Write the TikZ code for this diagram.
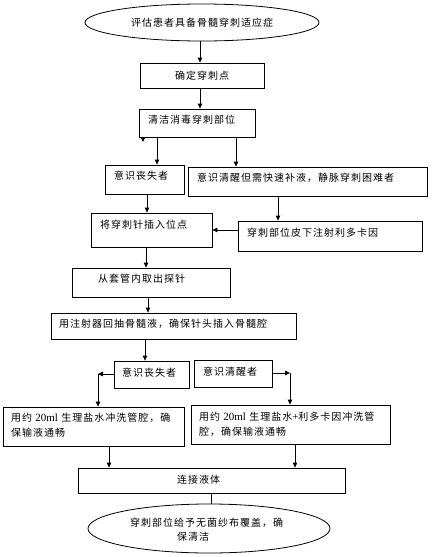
\documentclass[tikz,border=0pt]{standalone}
\usepackage{fontspec}
\setmainfont{Liberation Serif}
\newfontfamily\cjk[LetterSpace=10]{Noto Sans CJK SC}
\usetikzlibrary{arrows.meta,shapes.geometric}
\tikzset{
  box/.style={draw, line width=0.8pt, rectangle, inner sep=0},
  oval/.style={draw, line width=0.8pt, ellipse, inner sep=0},
  txt/.style={inner sep=0, anchor=west, align=left, font=\cjk\fontsize{10}{15}\selectfont},
  ctxt/.style={font=\cjk\fontsize{10}{15}\selectfont},
  arr/.style={line width=0.8pt, -{Triangle[length=5pt,width=4.5pt]}},
  link/.style={line width=0.8pt}
}
\begin{document}
\begin{tikzpicture}[x=1pt,y=-1pt]
\useasboundingbox (0,0) rectangle (434,557);
% nodes
\node[oval, ctxt, minimum width=234pt, minimum height=37pt] (E1) at (202,22.5) {评估患者具备骨髓穿刺适应症};
\node[box, ctxt, minimum width=124pt, minimum height=25pt] (B1) at (202,75.5) {确定穿刺点};
\node[box, minimum width=116pt, minimum height=28pt] (B2) at (197,123) {};
\node[box, minimum width=79pt, minimum height=29pt] (B3) at (144.5,179.5) {};
\node[box, minimum width=239pt, minimum height=29pt] (B4) at (307.5,181.5) {};
\node[box, minimum width=121pt, minimum height=34pt] (B5) at (151.5,230) {};
\node[box, minimum width=184pt, minimum height=30pt] (B6) at (330,236) {};
\node[box, minimum width=158pt, minimum height=29pt] (B7) at (151,282.5) {};
\node[box, minimum width=245pt, minimum height=26pt] (B8) at (173.5,326) {};
\node[box, minimum width=75pt, minimum height=27pt] (B9) at (151.5,374.5) {};
\node[box, minimum width=78pt, minimum height=27pt] (B10) at (233,373.5) {};
\node[box, minimum width=181pt, minimum height=39pt] (B11) at (93.5,426.5) {};
\node[box, minimum width=199pt, minimum height=39pt] (B12) at (290.5,424.5) {};
\node[box, minimum width=267pt, minimum height=25pt] (B13) at (211.5,480.5) {};
\node[oval, minimum width=242pt, minimum height=49pt] (E2) at (209,528.5) {};
% texts
\node[txt] (t2) at (148,120) {清洁消毒穿刺部位};
\node[txt] (t3) at (114,176) {意识丧失者};
\node[txt] (t4) at (197,178) {意识清醒但需快速补液，静脉穿刺困难者};
\node[txt] (t5) at (100,225) {将穿刺针插入位点};
\node[txt] (t6) at (247,233) {穿刺部位皮下注射利多卡因};
\node[txt] (t7) at (98,279) {从套管内取出探针};
\node[txt] (t8) at (59,324) {用注射器回抽骨髓液，确保针头插入骨髓腔};
\node[txt] (t9) at (122,373) {意识丧失者};
\node[txt] (t10) at (203,372) {意识清醒者};
\node[txt] (t11) at (11,425.5) {用约 {\rmfamily\fontsize{11}{15}\selectfont 20ml} 生理盐水冲洗管腔，确\\保输液通畅};
\node[txt] (t12) at (199,424.5) {用约 {\rmfamily\fontsize{11}{15}\selectfont 20ml} 生理盐水{\rmfamily\fontsize{11}{15}\selectfont +}利多卡因冲洗管\\腔，确保输液通畅};
\node[txt] (t13) at (177,480) {连接液体};
\node[txt] (t14) at (130,523) {穿刺部位给予无菌纱布覆盖，确};
\node[txt] (t15) at (177,537) {保清洁};
% helper coordinates
\coordinate (xa) at (200,0);
\coordinate (xs) at (143,0);
\coordinate (xb) at (157,0);
\coordinate (xc) at (236,0);
\coordinate (xd) at (147,0);
\coordinate (xe) at (278,0);
\coordinate (ya) at (0,230);
\coordinate (xf) at (146,0);
\coordinate (xg) at (148,0);
\coordinate (xh) at (145,0);
\coordinate (L) at (98,374);
\coordinate (R) at (290,373);
\coordinate (xi) at (109,0);
\coordinate (xj) at (295,0);
\coordinate (xk) at (211,0);
\coordinate (stub) at (143,142);
% connectors
\draw[arr] (E1.south -| xa) -- (B1.north -| xa);
\draw[arr] (B1.south -| xa) -- (B2.north -| xa);
\draw[arr] (B2.south -| xs) -- (stub);
\draw[arr] (B2.south -| xb) -- (B3.north -| xb);
\draw[arr] (B2.south -| xc) -- (B4.north -| xc);
\draw[arr] (B3.south -| xd) -- (B5.north -| xd);
\draw[arr] (B4.south -| xe) -- (B6.north -| xe);
\draw[arr] (B6.west |- ya) -- (B5.east |- ya);
\draw[arr] (B5.south -| xf) -- (B7.north -| xf);
\draw[arr] (B7.south -| xg) -- (B8.north -| xg);
\draw[arr] (B8.south -| xh) -- (B9.north -| xh);
\draw[arr] (B9.west |- L) -- (L);
\draw[arr] (L) -- (B11.north -| L);
\draw[arr] (B10.east |- R) -- (R);
\draw[arr] (R) -- (B12.north -| R);
\draw[arr] (B11.south -| xi) -- (B13.north -| xi);
\draw[arr] (B12.south -| xj) -- (B13.north -| xj);
\draw[link] (B13.south -| xk) -- (E2.north -| xk);
\end{tikzpicture}
\end{document}
